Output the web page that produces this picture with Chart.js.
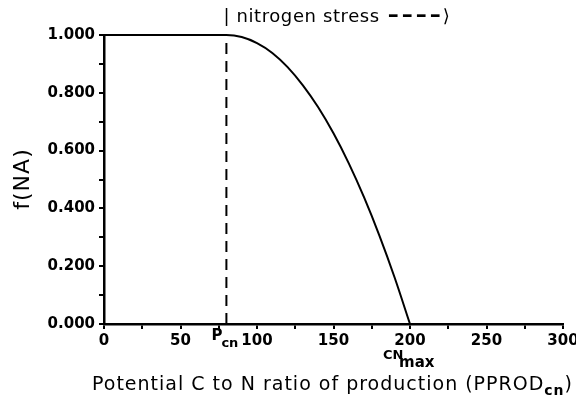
<!DOCTYPE html>
<html>
<head>
<meta charset="utf-8">
<script src="https://cdn.jsdelivr.net/npm/chart.js@4/dist/chart.umd.min.js"></script>
<style>
  html, body { margin: 0; padding: 0; background: #fff; }
  #chart { display: block; }
</style>
</head>
<body>
<canvas id="chart" width="576" height="400"></canvas>
<script>
// --- Data ---
const ratioX = [0, 80, 90, 100, 110, 120, 130, 140, 150, 160, 170, 180, 190, 200];
const fNA = [1, 1, 0.993, 0.972, 0.938, 0.889, 0.826, 0.750, 0.660, 0.556, 0.438, 0.306, 0.160, 0];
const pcnX = [80, 80];
const pcnY = [0, 1];
const xTickLabels = [0, 50, 100, 150, 200, 250, 300];
const yTickLabels = ['0.000', '0.200', '0.400', '0.600', '0.800', '1.000'];

const tickFont = { family: 'DejaVu Sans', size: 15, weight: 'bold' };

// --- Extra text: titles, subscripts, annotations ---
const textPlugin = {
  id: 'textPlugin',
  afterDraw(chart) {
    const ctx = chart.ctx;
    const x = chart.scales.x;
    ctx.save();
    ctx.fillStyle = '#000';
    ctx.textBaseline = 'alphabetic';

    // y title
    ctx.save();
    ctx.translate(29, 179);
    ctx.rotate(-Math.PI / 2);
    ctx.font = '22px "DejaVu Sans"';
    ctx.letterSpacing = '1px';
    ctx.textAlign = 'center';
    ctx.fillText('f(NA)', 0, 0);
    ctx.restore();

    // x title with subscript
    ctx.textAlign = 'left';
    ctx.letterSpacing = '1px';
    ctx.font = '19px "DejaVu Sans"';
    let tx = 92;
    const main = 'Potential C to N ratio of production (PPROD';
    ctx.fillText(main, tx, 390);
    tx += ctx.measureText(main).width;
    ctx.font = 'bold 14px "DejaVu Sans"';
    ctx.fillText('cn', tx, 395);
    tx += ctx.measureText('cn').width;
    ctx.font = '19px "DejaVu Sans"';
    ctx.fillText(')', tx, 390);
    ctx.letterSpacing = '0px';

    // P_cn under the dashed line
    const px = x.getPixelForValue(pcnX[0]);
    ctx.font = 'bold 15px "DejaVu Sans"';
    ctx.fillText('P', px - 15, 340);
    ctx.font = 'bold 13px "DejaVu Sans"';
    ctx.fillText('cn', px - 5, 347);

    // CN_max under 200
    const cx = x.getPixelForValue(200);
    ctx.font = 'bold 13px "DejaVu Sans"';
    ctx.fillText('CN', cx - 27, 359);
    ctx.font = 'bold 15px "DejaVu Sans"';
    ctx.fillText('max', cx - 11, 367);

    // nitrogen stress annotation
    ctx.font = '18px "DejaVu Sans"';
    ctx.letterSpacing = '0.6px';
    let ax = px - 3;
    ctx.fillText('| nitrogen stress', ax, 22);
    ax += ctx.measureText('| nitrogen stress').width + 8;
    ctx.font = 'bold 22px "DejaVu Sans"';
    ctx.letterSpacing = '3px';
    ctx.fillText('––––', ax, 22);
    ax += ctx.measureText('––––').width - 1;
    ctx.font = '18px "DejaVu Sans"';
    ctx.letterSpacing = '0px';
    ctx.fillText('⟩', ax, 22);
    ctx.restore();
  }
};

new Chart(document.getElementById('chart'), {
  type: 'line',
  data: {
    datasets: [
      {
        data: ratioX.map((v, i) => ({ x: v, y: fNA[i] })),
        borderColor: '#000',
        borderWidth: 2,
        pointRadius: 0,
        cubicInterpolationMode: 'monotone',
        clip: false
      },
      {
        data: pcnX.map((v, i) => ({ x: v, y: pcnY[i] })),
        borderColor: '#000',
        borderWidth: 2,
        borderDash: [11, 7],
        pointRadius: 0,
        clip: false
      }
    ]
  },
  options: {
    responsive: false,
    animation: false,
    layout: { padding: { top: 35, right: 13, left: 0, bottom: 0 } },
    plugins: { legend: { display: false }, tooltip: { enabled: false } },
    scales: {
      x: {
        type: 'linear',
        min: 0,
        max: 300,
        ticks: {
          stepSize: 25,
          autoSkip: false,
          maxRotation: 0,
          color: '#000',
          font: tickFont,
          padding: 3,
          callback: v => xTickLabels.includes(v) ? String(v) : ''
        },
        grid: { drawOnChartArea: false, drawTicks: true, tickLength: 5, color: '#000', lineWidth: 2 },
        border: { color: '#000', width: 2.5 },
        afterFit(scale) { scale.height = 76; scale.paddingLeft = 0; scale.paddingRight = 0; }
      },
      y: {
        min: 0,
        max: 1,
        ticks: {
          stepSize: 0.1,
          autoSkip: false,
          color: '#000',
          font: tickFont,
          padding: 4,
          callback: v => {
            const s = v.toFixed(3);
            return yTickLabels.includes(s) ? s : '';
          }
        },
        grid: { drawOnChartArea: false, drawTicks: true, tickLength: 5, color: '#000', lineWidth: 2 },
        border: { color: '#000', width: 2.5 },
        afterFit(scale) { scale.width = 104; scale.paddingTop = 0; scale.paddingBottom = 0; }
      }
    }
  },
  plugins: [textPlugin]
});
</script>
</body>
</html>
